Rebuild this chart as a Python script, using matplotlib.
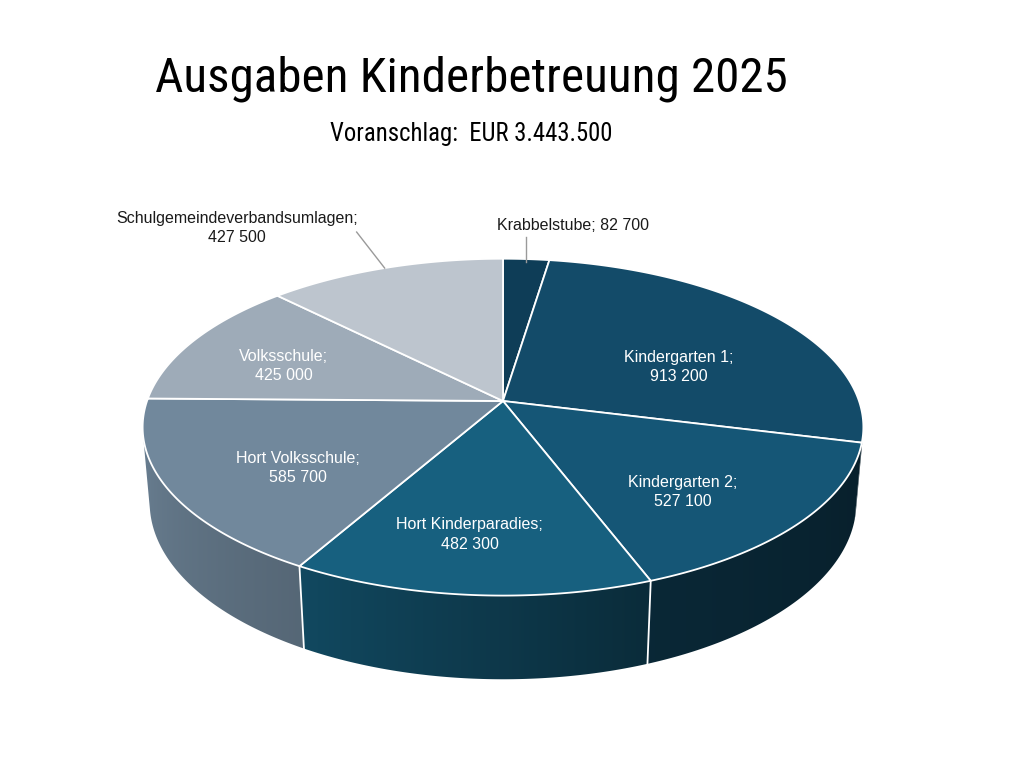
import numpy as np
import matplotlib
matplotlib.use('Agg')
import matplotlib.pyplot as plt
from matplotlib.colors import to_rgb

# Ausgaben Kinderbetreuung 2025 - 3D pie drawn by hand (perspective projection)

categories = ['Krabbelstube', 'Kindergarten 1', 'Kindergarten 2', 'Hort Kinderparadies',
              'Hort Volksschule', 'Volksschule', 'Schulgemeindeverbandsumlagen']
values = [82700, 913200, 527100, 482300, 585700, 425000, 427500]
colors = ['#0e3d57', '#134b69', '#155676', '#17607f', '#71889c', '#9eabb8', '#bdc5ce']

TITLE = 'Ausgaben Kinderbetreuung 2025'
SUBTITLE = 'Voranschlag:  EUR 3.443.500'

# projection / layout (pixels)
CX, CY = 503, 401
S = 356
ALPHA = np.radians(27.5)
KR = 0.175
THICK = 0.241
SIN_A, COS_A = np.sin(ALPHA), np.cos(ALPHA)
DELTA = np.degrees(np.arcsin(KR / COS_A))

NARROW = ['Roboto Condensed', 'DejaVu Sans']
LABELFONT = ['Liberation Sans', 'DejaVu Sans']

# label placement: inside labels nudged from the projected mid point (px)
label_nudge = [(47, -34), (7, 18), (10, 21), (-15, 25), (-11, 16), (-30, 2), (-148, -40)]
outside = [True, False, False, False, False, False, True]


def project(phi_deg, rho=1.0, z=0.0):
    phi = np.radians(phi_deg)
    x = rho * np.cos(phi)
    y = rho * np.sin(phi)
    v = y * SIN_A + z * COS_A
    w = y * COS_A - z * SIN_A
    den = 1 + KR * w
    return CX + S * x / den, CY - S * v / den


def shade(phi_deg):
    a = np.mod(phi_deg, 360)
    return np.interp(a, [180, 240, 290, 360], [0.97, 0.76, 0.46, 0.34])


def fmt(v):
    return f'{v:,}'.replace(',', ' ')


total = float(sum(values))
cum = np.concatenate([[0], np.cumsum(values)]) / total
phi_start = 90 - 360 * cum[:-1]
phi_end = 90 - 360 * cum[1:]

fig = plt.figure(figsize=(10.24, 7.68), dpi=100)
ax = fig.add_axes([0, 0, 1, 1])
ax.axis('off')

# side walls (front part only), shaded with a horizontal gradient
lo_front, hi_front = -180 + DELTA, -DELTA
for i in range(len(values)):
    lo = max(phi_end[i], lo_front)
    hi = min(phi_start[i], hi_front)
    if lo >= hi:
        continue
    ph = np.linspace(lo, hi, 200)
    tx, ty = project(ph)
    bx, by = project(ph, z=-THICK)
    poly = np.column_stack([np.concatenate([tx, bx[::-1]]), np.concatenate([ty, by[::-1]])])
    xmin, xmax = poly[:, 0].min() - 1, poly[:, 0].max() + 1
    ymin, ymax = poly[:, 1].min() - 1, poly[:, 1].max() + 1
    xs = np.linspace(xmin, xmax, 400)
    phs = np.interp(xs, tx, ph)
    base = np.array(to_rgb(colors[i]))
    img = (base[None, :] * shade(phs)[:, None])[None, :, :]
    clip = plt.Polygon(poly, closed=True, facecolor='none', edgecolor='none')
    ax.add_patch(clip)
    im = ax.imshow(img, extent=[xmin, xmax, ymax, ymin], interpolation='bilinear',
                   zorder=1, aspect='auto')
    im.set_clip_path(clip)

# white seams on the walls
for b in phi_end[:-1]:
    if lo_front + 5 < b < hi_front - 5:
        x0, y0 = project(b)
        x1, y1 = project(b, z=-THICK)
        ax.plot([x0, x1], [y0, y1], color='white', lw=1.3, zorder=2)

# top faces
ox, oy = project(0, rho=0)
for i in range(len(values)):
    ph = np.linspace(phi_start[i], phi_end[i], 200)
    rx, ry = project(ph)
    poly = np.column_stack([np.concatenate([[ox], rx]), np.concatenate([[oy], ry])])
    ax.add_patch(plt.Polygon(poly, closed=True, facecolor=colors[i],
                             edgecolor='white', lw=1.3, zorder=3))

# data labels
for i, name in enumerate(categories):
    mid = 0.5 * (phi_start[i] + phi_end[i])
    dx, dy = label_nudge[i]
    if outside[i]:
        rx, ry = project(mid)
        lx, ly = rx + dx, ry + dy
        if i == 0:
            text = f'{name}; {fmt(values[i])}'
            ax.plot([rx, rx], [ry + 3, ry - 22], color='#9a9a9a', lw=1, zorder=4)
        else:
            text = f'{name};\n{fmt(values[i])}'
            ax.plot([rx, rx - 28], [ry, ry - 36], color='#9a9a9a', lw=1, zorder=4)
        ax.text(lx, ly, text, ha='center', va='center', fontsize=11.5,
                color='#1a1a1a', family=LABELFONT, linespacing=1.35, zorder=5)
    else:
        px, py = project(mid, rho=0.6)
        ax.text(px + dx, py + dy, f'{name};\n{fmt(values[i])}', ha='center', va='center',
                fontsize=11.5, color='white', family=LABELFONT, linespacing=1.35, zorder=5)

ax.set_xlim(0, 1024)
ax.set_ylim(768, 0)

title = ax.text(471, 92, TITLE, ha='center', va='baseline', fontsize=36, family=NARROW,
                color='black')
sub = ax.text(471, 141, SUBTITLE, ha='center', va='baseline', fontsize=18, family=NARROW,
              color='black')

# fit title / subtitle widths to the reference layout
fig.canvas.draw()
renderer = fig.canvas.get_renderer()
for t, target in ((title, 633), (sub, 283)):
    w = t.get_window_extent(renderer).width
    t.set_fontsize(t.get_fontsize() * target / w)

plt.savefig('out.png', dpi=100, facecolor='white')
